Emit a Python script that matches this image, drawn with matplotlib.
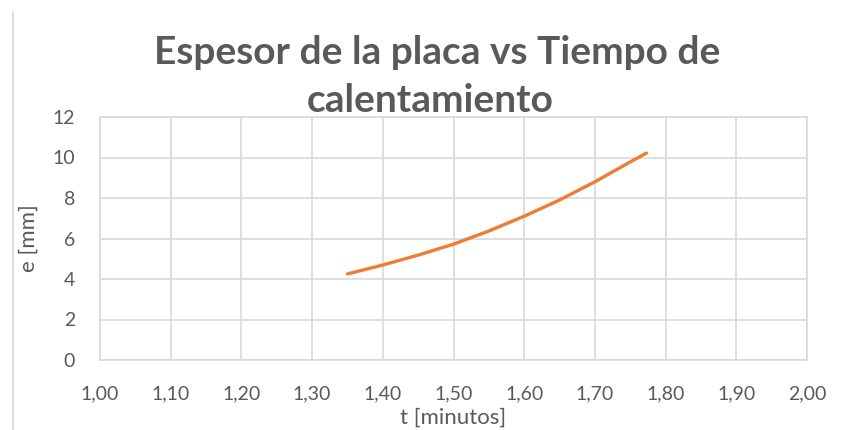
import numpy as np
import matplotlib.pyplot as plt
from matplotlib.lines import Line2D
from matplotlib.ticker import FuncFormatter

# espesor de la placa frente al tiempo de calentamiento
t_min = [1.35, 1.40, 1.45, 1.50, 1.55, 1.60, 1.65, 1.70, 1.75, 1.773]
e_mm = [4.25, 4.69, 5.18, 5.72, 6.37, 7.10, 7.90, 8.80, 9.78, 10.22]

GRAY = "#595959"
GRID = "#d9d9d9"
ORANGE = "#ED7D31"

plt.rcParams["font.family"] = ["Lato", "DejaVu Sans"]

fig = plt.figure(figsize=(8.49, 4.30), dpi=100)
ax = fig.add_axes([100 / 849, 1 - 360 / 430, 707 / 849, 243 / 430])

ax.plot(t_min, e_mm, color=ORANGE, lw=2.4, solid_capstyle="round")

ax.set_xlim(1.0, 2.0)
ax.set_ylim(0, 12)
ax.set_xticks(np.arange(1.0, 2.01, 0.1))
ax.set_yticks(range(0, 13, 2))
ax.xaxis.set_major_formatter(FuncFormatter(lambda v, p: f"{v:.2f}".replace(".", ",")))
ax.grid(True, color=GRID, lw=1.2)
ax.set_axisbelow(True)
for s in ax.spines.values():
    s.set_color(GRID)
    s.set_linewidth(1.2)
ax.tick_params(length=0, colors=GRAY, labelsize=14)
ax.tick_params(axis="x", pad=18)
ax.tick_params(axis="y", pad=18)

ax.set_xlabel("t [minutos]", color=GRAY, fontsize=16, labelpad=4)
ax.set_ylabel("e [mm]", color=GRAY, fontsize=16, labelpad=10)

fig.text(437 / 849, 1 - 52 / 430, "Espesor de la placa vs Tiempo de",
         ha="center", va="center", fontsize=28, fontweight="bold", color=GRAY)
fig.text(430 / 849, 1 - 100 / 430, "calentamiento",
         ha="center", va="center", fontsize=28, fontweight="bold", color=GRAY)

# borde izquierdo de la hoja
fig.add_artist(Line2D([13 / 849, 13 / 849], [0, 1 - 12 / 430], color=GRID, lw=1.2))

fig.savefig("out.png", dpi=100)
